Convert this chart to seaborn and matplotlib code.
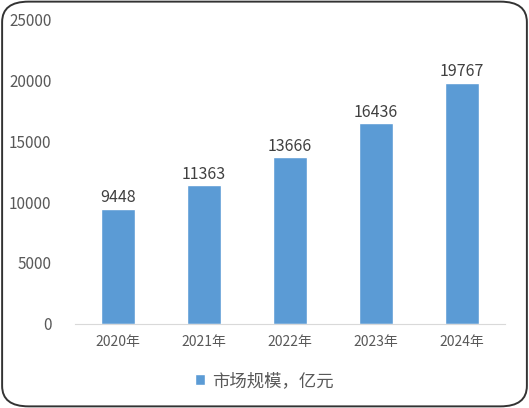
import pandas as pd
import matplotlib.pyplot as plt
import seaborn as sns
from matplotlib.patches import FancyBboxPatch

sns.set_style("white")
plt.rcParams['font.family'] = ['Noto Sans CJK SC', 'DejaVu Sans']

years = ['2020年', '2021年', '2022年', '2023年', '2024年']
market_size = [9448, 11363, 13666, 16436, 19767]
series_name = '市场规模，亿元'

df = pd.DataFrame({'year': years, 'size': market_size})

fig = plt.figure(figsize=(5.29, 4.08), dpi=100)
ax = fig.add_axes([0.1418, 0.2059, 0.8128, 0.7475])

sns.barplot(data=df, x='year', y='size', color='#5B9BD5', saturation=1,
            width=0.4, ax=ax, label=series_name)

for c in ax.containers:
    ax.bar_label(c, fmt='%d', padding=2, fontsize=11.5, color='#404040')

ax.set_ylim(0, 25000)
ax.set_yticks(range(0, 25001, 5000))
ax.set_xlim(-0.5, 4.5)
ax.set_xlabel('')
ax.set_ylabel('')
for s in ['top', 'right', 'left']:
    ax.spines[s].set_visible(False)
ax.spines['bottom'].set_color('#D9D9D9')
ax.tick_params(axis='y', length=0, labelsize=11, labelcolor='#595959', pad=17)
ax.tick_params(axis='x', length=0, labelsize=10, labelcolor='#595959', pad=8)

ax.legend(loc='center', bbox_to_anchor=(0.5, 0.066), bbox_transform=fig.transFigure,
          frameon=False, fontsize=12.5, handlelength=0.6, handleheight=0.6,
          handletextpad=0.4, labelcolor='#595959')

frame = FancyBboxPatch((0.004, 0.004), 0.992, 0.992, boxstyle='round,pad=0,rounding_size=0.05',
                       transform=fig.transFigure, fill=False, edgecolor='#333333',
                       linewidth=1.4)
fig.patches.append(frame)

plt.savefig('out.png', dpi=100)
